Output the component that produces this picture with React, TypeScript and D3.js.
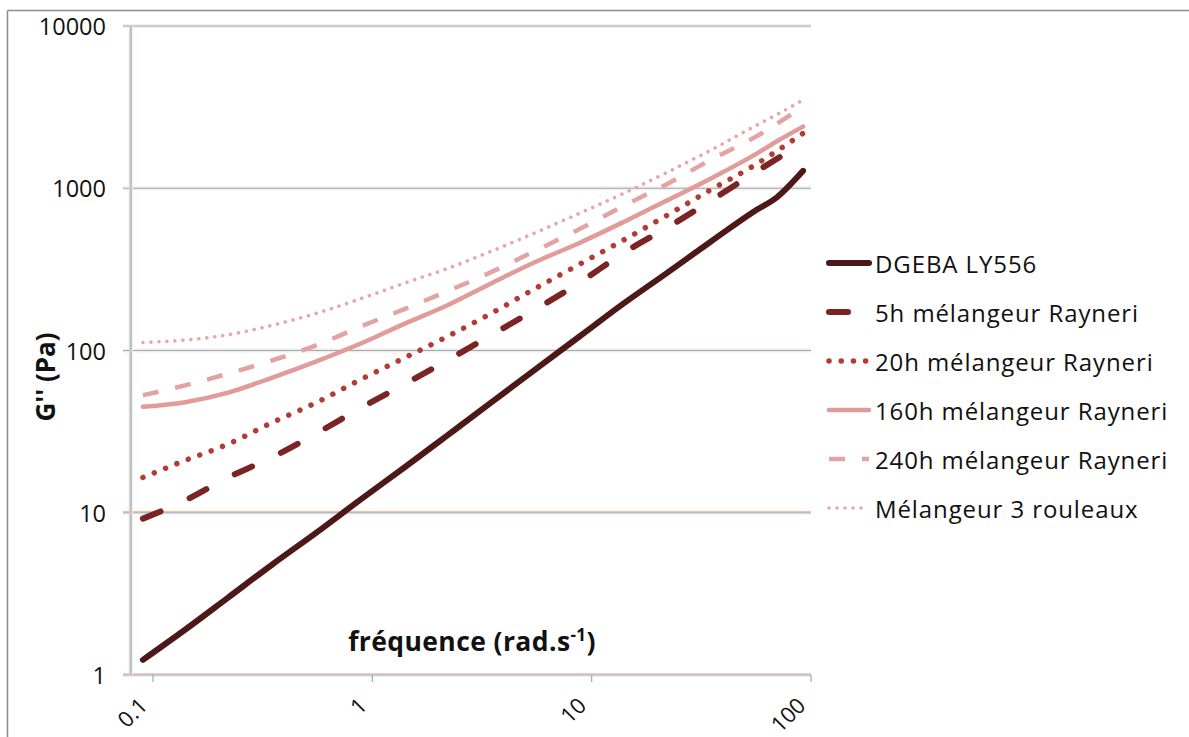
import React from "react";
import * as d3 from "d3";

const freqs = [0.09, 0.14, 0.22, 0.35, 0.56, 0.88, 1.4, 2.2, 3.5, 5.5, 8.8, 14, 22, 35, 55, 70, 92];

const dgeba = [1.24, 1.9, 3.0, 4.8, 7.6, 12, 19, 30, 48, 76, 122, 195, 300, 470, 720, 880, 1280];
const h5 = [9.2, 11.9, 16.5, 22, 31, 44, 62, 87, 125, 178, 262, 400, 570, 840, 1240, 1520, 1900];
const h20 = [16.5, 21, 26.5, 36, 48, 66, 90, 122, 170, 240, 340, 480, 680, 980, 1380, 1700, 2180];
const h160 = [45, 48, 55, 68, 86, 110, 146, 190, 260, 350, 460, 620, 840, 1150, 1600, 1950, 2400];
const h240 = [53, 61, 72, 87, 108, 140, 180, 232, 305, 410, 560, 780, 1060, 1500, 2050, 2500, 3200];
const rouleaux = [112, 116, 125, 143, 170, 208, 260, 320, 410, 530, 700, 930, 1250, 1720, 2400, 2850, 3500];

const seriesNames = [
  "DGEBA LY556",
  "5h mélangeur Rayneri",
  "20h mélangeur Rayneri",
  "160h mélangeur Rayneri",
  "240h mélangeur Rayneri",
  "Mélangeur 3 rouleaux",
];
const seriesValues = [dgeba, h5, h20, h160, h240, rouleaux];

const yTicks = [1, 10, 100, 1000, 10000];
const yTickLabels = ["1", "10", "100", "1000", "10000"];
const xTicks = [0.1, 1, 10, 100];
const xTickLabels = ["0.1", "1", "10", "100"];

const styles = [
  { color: "#4d1818", width: 6, dash: "none", cap: "round" },
  { color: "#7a2424", width: 6, dash: "19 32", cap: "round" },
  { color: "#b23b34", width: 5.5, dash: "0.01 12.2", cap: "round" },
  { color: "#e29b9b", width: 4.5, dash: "none", cap: "round" },
  { color: "#e4a3a3", width: 4.5, dash: "16 17", cap: "butt" },
  { color: "#eaa6a6", width: 3.6, dash: "0.01 8", cap: "round" },
];

const FONT = "'Open Sans', sans-serif";

export default function App() {
  const x = d3.scaleLog().domain([0.0794, 100]).range([131, 811]);
  const y = d3.scaleLog().domain([1, 10000]).range([675, 26]);
  const line = d3
    .line<[number, number]>()
    .x((d) => x(d[0]))
    .y((d) => y(d[1]))
    .curve(d3.curveMonotoneX);

  const [x0, x1] = x.range();
  const [yb, yt] = y.range();

  return (
    <svg
      width={1189}
      height={737}
      style={{ position: "absolute", left: 0, top: 0, background: "#fff" }}
      fontFamily={FONT}
    >
      {/* outer frame */}
      <line x1={7.5} y1={10.5} x2={1189} y2={10.5} stroke="#8c8c8c" strokeWidth={1.5} />
      <line x1={7.5} y1={10.5} x2={7.5} y2={737} stroke="#8c8c8c" strokeWidth={1.5} />

      {/* gridlines */}
      {yTicks.map((t) => (
        <g key={"g" + t}>
          <line x1={x0 - 8} x2={x1} y1={y(t)} y2={y(t)} stroke="#fcebe3" strokeWidth={4} />
          {t <= 10 && (
            <line x1={x0 - 8} x2={x1} y1={y(t) - 1.2} y2={y(t) - 1.2} stroke="#f4bda6" strokeWidth={1} />
          )}
          <line x1={x0 - 8} x2={x1} y1={y(t)} y2={y(t)} stroke="#86b4c9" strokeWidth={1.2} />
        </g>
      ))}
      {/* y axis line */}
      <line x1={x0} x2={x0} y1={yt} y2={yb} stroke="#fcebe3" strokeWidth={4} />
      <line x1={x0 - 1.2} x2={x0 - 1.2} y1={yt} y2={yb} stroke="#f4bda6" strokeWidth={1} />
      <line x1={x0} x2={x0} y1={yt} y2={yb} stroke="#86b4c9" strokeWidth={1.2} />
      {/* x ticks */}
      {xTicks.map((t) => (
        <line key={"xt" + t} x1={x(t)} x2={x(t)} y1={yb} y2={yb + 7} stroke="#86b4c9" strokeWidth={1.2} />
      ))}

      {/* y tick labels */}
      {yTicks.map((t, i) => (
        <text
          key={"yl" + t}
          x={106}
          y={y(t)}
          textAnchor="end"
          dominantBaseline="central"
          fontSize={23.5}
          fill="#111"
        >
          {yTickLabels[i]}
        </text>
      ))}
      {/* x tick labels */}
      {xTicks.map((t, i) => (
        <text
          key={"xl" + t}
          transform={`translate(${x(t) - 4},${yb + 32}) rotate(-45)`}
          textAnchor="end"
          fontSize={22}
          fill="#111"
        >
          {xTickLabels[i]}
        </text>
      ))}

      {/* axis titles */}
      <text
        transform={`translate(55,377) rotate(-90)`}
        textAnchor="middle"
        fontSize={26}
        fontWeight="bold"
        fill="#111"
      >
        G'' (Pa)
      </text>
      <text x={472} y={651} textAnchor="middle" fontSize={26.5} fontWeight="bold" letterSpacing={0.4} fill="#111">
        fréquence (rad.s
        <tspan fontSize={17} dy={-10}>-1</tspan>
        <tspan dy={10}>)</tspan>
      </text>

      {/* series */}
      {seriesValues.map((vals, i) => {
        const pts = freqs.map((f, j) => [f, vals[j]] as [number, number]);
        const s = styles[i];
        return (
          <path
            key={"s" + i}
            d={line(pts) || ""}
            fill="none"
            stroke={s.color}
            strokeWidth={s.width}
            strokeDasharray={s.dash}
            strokeLinecap={s.cap as any}
            strokeLinejoin="round"
          />
        );
      })}

      {/* legend */}
      {seriesNames.map((name, i) => {
        const s = styles[i];
        const ly = 263 + i * 49;
        return (
          <g key={"lg" + i}>
            <line
              x1={829}
              x2={869}
              y1={ly}
              y2={ly}
              stroke={s.color}
              strokeWidth={s.width}
              strokeDasharray={s.dash}
              strokeLinecap={s.cap as any}
            />
            <text x={875} y={ly} dominantBaseline="central" fontSize={24} letterSpacing={0.9} fill="#111">
              {name}
            </text>
          </g>
        );
      })}
    </svg>
  );
}
